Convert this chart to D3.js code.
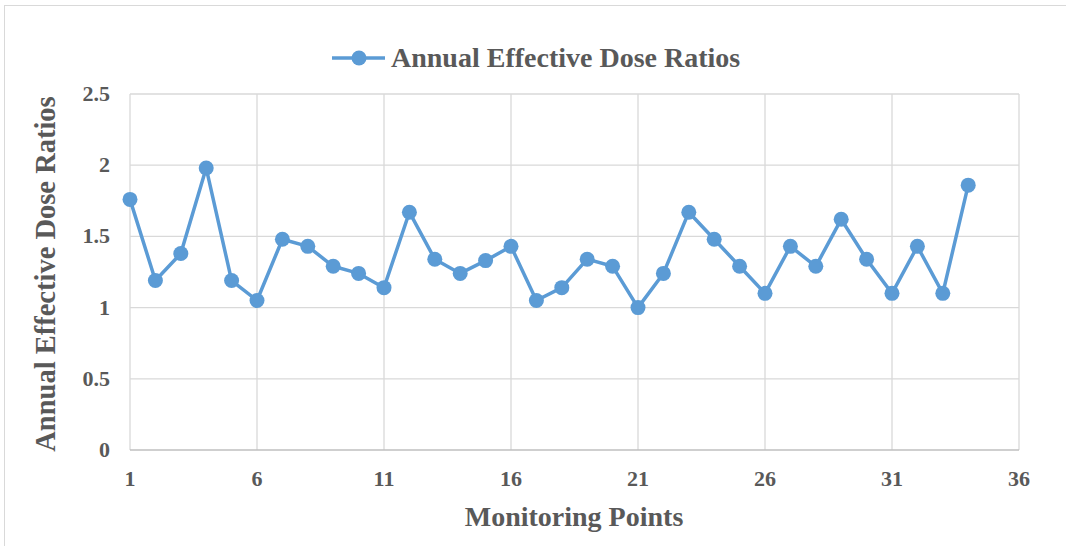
<!DOCTYPE html>
<html><head><meta charset="utf-8">
<script src="https://cdn.jsdelivr.net/npm/d3@7"></script>
<style>body{margin:0;background:#fff}svg{display:block}</style>
</head><body>
<svg id="c" width="1066" height="546"></svg>
<script>
const points = d3.range(1, 35);
const ratios = [1.76,1.19,1.38,1.98,1.19,1.05,1.48,1.43,1.29,1.24,1.14,1.67,1.34,1.24,1.33,1.43,1.05,1.14,1.34,1.29,1.00,1.24,1.67,1.48,1.29,1.10,1.43,1.29,1.62,1.34,1.10,1.43,1.10,1.86];
const xTicks = [1,6,11,16,21,26,31,36];
const yTicks = [0,0.5,1,1.5,2,2.5];
const seriesName = "Annual Effective Dose Ratios";

const svg = d3.select("#c");
const font = "'Liberation Serif','Times New Roman',serif";
const textCol = "#595959", lineCol = "#5b9bd5", gridCol = "#d9d9d9";
svg.append("rect").attr("x",4.5).attr("y",5.5).attr("width",1070).attr("height",560)
  .attr("fill","#fff").attr("stroke","#d9d9d9");

const x = d3.scaleLinear().domain([1,36]).range([130,1019]);
const y = d3.scaleLinear().domain([0,2.5]).range([450,94]);

const g = svg.append("g");
g.selectAll(".vg").data(xTicks).join("line")
  .attr("x1",d=>x(d)).attr("x2",d=>x(d)).attr("y1",y(2.5)).attr("y2",y(0))
  .attr("stroke",gridCol).attr("stroke-width",1.3);
g.selectAll(".hg").data(yTicks.filter(d=>d>0)).join("line")
  .attr("x1",x(1)).attr("x2",x(36)).attr("y1",d=>y(d)).attr("y2",d=>y(d))
  .attr("stroke",gridCol).attr("stroke-width",1.3);
g.append("line").attr("x1",x(1)).attr("x2",x(36)).attr("y1",y(0)).attr("y2",y(0))
  .attr("stroke","#bfbfbf").attr("stroke-width",1.5);

g.selectAll(".xt").data(xTicks).join("text")
  .attr("x",d=>x(d)).attr("y",486).attr("text-anchor","middle")
  .attr("font-family",font).attr("font-weight","bold").attr("font-size",22).attr("fill",textCol)
  .text(d=>d);
g.selectAll(".yt").data(yTicks).join("text")
  .attr("x",110).attr("y",d=>y(d)+7).attr("text-anchor","end")
  .attr("font-family",font).attr("font-weight","bold").attr("font-size",22).attr("fill",textCol)
  .text(d=>d);

svg.append("text").attr("x",574).attr("y",526).attr("text-anchor","middle")
  .attr("font-family",font).attr("font-weight","bold").attr("font-size",28).attr("fill",textCol)
  .text("Monitoring Points");
svg.append("text").attr("transform","translate(55,274) rotate(-90)").attr("text-anchor","middle")
  .attr("font-family",font).attr("font-weight","bold").attr("font-size",28.5).attr("fill",textCol)
  .text("Annual Effective Dose Ratios");

const line = d3.line().x((d,i)=>x(points[i])).y(d=>y(d));
svg.append("path").datum(ratios).attr("d",line).attr("fill","none")
  .attr("stroke",lineCol).attr("stroke-width",3.5).attr("stroke-linejoin","round");
svg.selectAll(".pt").data(ratios).join("circle")
  .attr("cx",(d,i)=>x(points[i])).attr("cy",d=>y(d)).attr("r",7.5).attr("fill",lineCol);

const lg = svg.append("g");
lg.append("line").attr("x1",332).attr("x2",385).attr("y1",58).attr("y2",58)
  .attr("stroke",lineCol).attr("stroke-width",3.5);
lg.append("circle").attr("cx",359).attr("cy",58).attr("r",7.5).attr("fill",lineCol);
lg.append("text").attr("x",391).attr("y",67)
  .attr("font-family",font).attr("font-weight","bold").attr("font-size",28).attr("fill",textCol)
  .text(seriesName);
</script>
</body></html>
